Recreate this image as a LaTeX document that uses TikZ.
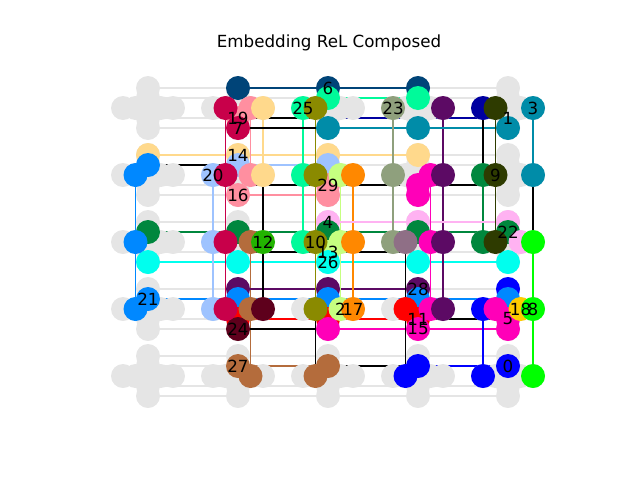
\documentclass[tikz,border=0pt]{standalone}
\usepackage{fontspec}
\setmainfont{DejaVu Sans}
\usetikzlibrary{backgrounds}

\definecolor{cgrey}{HTML}{E5E5E5}
\definecolor{cnavy}{HTML}{004478}
\definecolor{ccrim}{HTML}{C8004A}
\definecolor{cpink}{HTML}{FF8FA0}
\definecolor{cyel}{HTML}{FFD98C}
\definecolor{cmint}{HTML}{00FA9A}
\definecolor{colive}{HTML}{8A8A00}
\definecolor{cteal}{HTML}{008CA8}
\definecolor{cggreen}{HTML}{8FA07D}
\definecolor{cdpurp}{HTML}{5C0A64}
\definecolor{cdblue}{HTML}{0000A0}
\definecolor{cdolive}{HTML}{2E3B00}
\definecolor{clblue}{HTML}{9EC3FF}
\definecolor{cbluee}{HTML}{0088FF}
\definecolor{corange}{HTML}{FF8800}
\definecolor{clime}{HTML}{C6FF80}
\definecolor{cmag}{HTML}{FF00B8}
\definecolor{cdgreen}{HTML}{00873E}
\definecolor{clav}{HTML}{FFB2F2}
\definecolor{cbrown}{HTML}{B46C3C}
\definecolor{cgreen}{HTML}{22B400}
\definecolor{cmaroon}{HTML}{5E001C}
\definecolor{ccyan}{HTML}{00FFEE}
\definecolor{cmauve}{HTML}{8F6F86}
\definecolor{cred}{HTML}{FF0000}
\definecolor{cblue}{HTML}{0000FF}
\definecolor{cgold}{HTML}{FFCC00}
\definecolor{cneon}{HTML}{00FF00}

\tikzset{
  vtx/.style={circle, fill=#1, draw=none, inner sep=0pt, minimum size=24pt},
  vtx/.default=cgrey,
  gedge/.style={draw=cgrey, line width=1.4pt},
  cedge/.style={draw=#1, line width=1.4pt},
  lbl/.style={font=\fontsize{16.7}{20}\selectfont, inner sep=0pt},
}

\begin{document}
\begin{tikzpicture}[x=1pt,y=-1pt]
\useasboundingbox (0,0) rectangle (640,480);

\node[lbl] (title) at (329,43) {Embedding ReL Composed};

% target grid, 9 slots per cell
\foreach \i in {0,...,4}
  \foreach \j in {0,...,4}
    \foreach \s/\dx/\dy in {U2/0/-20, U1/0/-10, C/0/0, L2/-25/0, L1/-12.5/0, R1/12.5/0, R2/25/0, D1/0/10, D2/0/20}
      \node[vtx] (g\i\j\s) at ({148+90*\i+\dx},{108+67*\j+\dy}) {};

% column 1
\node[vtx=cyel] (a1) at (g01U2) {};
\node[vtx=cbluee] (a2) at (g01U1) {};
\node[vtx=cbluee] (a3) at (g01L1) {};
\node[vtx=cdgreen] (a4) at (g02U1) {};
\node[vtx=ccyan] (a6) at (g02D2) {};
\node[vtx=cbluee] (a5) at (g02L1) {};
\node[vtx=cbluee] (a7) at (g03U1) {};
\node[vtx=cbluee] (a8) at (g03L1) {};

% column 2
\node[vtx=cnavy] (b1) at (g10U2) {};
\node[vtx=cpink] (b2) at (g10D1) {};
\node[vtx=ccrim] (b3) at (g10D2) {};
\node[vtx=ccrim] (b4) at (g10L1) {};
\node[vtx=cpink] (b5) at (g10R1) {};
\node[vtx=cyel] (b6) at (g10R2) {};

\node[vtx=cyel] (c1) at (g11U2) {};
\node[vtx=clblue] (c2) at (g11U1) {};
\node[vtx=cpink] (c3) at (g11D2) {};
\node[vtx=clblue] (c4) at (g11L2) {};
\node[vtx=ccrim] (c5) at (g11L1) {};
\node[vtx=cpink] (c6) at (g11R1) {};
\node[vtx=cyel] (c7) at (g11R2) {};

\node[vtx=cdgreen] (d1) at (g12U1) {};
\node[vtx=ccyan] (d2) at (g12D2) {};
\node[vtx=clblue] (d3) at (g12L2) {};
\node[vtx=ccrim] (d4) at (g12L1) {};
\node[vtx=cbrown] (d5) at (g12R1) {};
\node[vtx=cgreen] (d6) at (g12R2) {};

\node[vtx=cdpurp] (e1) at (g13U2) {};
\node[vtx=cbluee] (e2) at (g13U1) {};
\node[vtx=cred] (e3) at (g13D1) {};
\node[vtx=cmaroon] (e4) at (g13D2) {};
\node[vtx=clblue] (e5) at (g13L2) {};
\node[vtx=ccrim] (e6) at (g13L1) {};
\node[vtx=cbrown] (e7) at (g13R1) {};
\node[vtx=cmaroon] (e8) at (g13R2) {};

\node[vtx=cbrown] (f1) at (g14U1) {};
\node[vtx=cbrown] (f2) at (g14R1) {};

% column 3
\node[vtx=cnavy] (g1) at (g20U2) {};
\node[vtx=cmint] (g2) at (g20U1) {};
\node[vtx=cteal] (g4) at (g20D2) {};
\node[vtx=cmint] (g5) at (g20L2) {};
\node[vtx=colive] (g6) at (g20L1) {};

\node[vtx=cyel] (h1) at (g21U2) {};
\node[vtx=clblue] (h2) at (g21U1) {};
\node[vtx=cpink] (h3) at (g21D1) {};
\node[vtx=cpink] (h4) at (g21D2) {};
\node[vtx=cmint] (h5) at (g21L2) {};
\node[vtx=colive] (h6) at (g21L1) {};
\node[vtx=clime] (h7) at (g21R1) {};
\node[vtx=corange] (h8) at (g21R2) {};

\node[vtx=clav] (i1) at (g22U2) {};
\node[vtx=cdgreen] (i2) at (g22U1) {};
\node[vtx=clime] (i3) at (g22D1) {};
\node[vtx=ccyan] (i4) at (g22D2) {};
\node[vtx=cmint] (i5) at (g22L2) {};
\node[vtx=colive] (i6) at (g22L1) {};
\node[vtx=clime] (i7) at (g22R1) {};
\node[vtx=corange] (i8) at (g22R2) {};

\node[vtx=cdpurp] (j1) at (g23U2) {};
\node[vtx=cbluee] (j2) at (g23U1) {};
\node[vtx=cred] (j3) at (g23D1) {};
\node[vtx=cmag] (j4) at (g23D2) {};
\node[vtx=colive] (j5) at (g23L1) {};
\node[vtx=clime] (j6) at (g23R1) {};
\node[vtx=corange] (j7) at (g23R2) {};

\node[vtx=cbrown] (k1) at (g24U1) {};
\node[vtx=cbrown] (k2) at (g24L1) {};

% column 4
\node[vtx=cnavy] (m1) at (g30U2) {};
\node[vtx=cmint] (m2) at (g30U1) {};
\node[vtx=cteal] (m4) at (g30D2) {};
\node[vtx=cggreen] (m5) at (g30L2) {};
\node[vtx=cdpurp] (m6) at (g30R2) {};

\node[vtx=cyel] (n1) at (g31U2) {};
\node[vtx=cmag] (n5) at (g31D1) {};
\node[vtx=cmag] (n6) at (g31D2) {};
\node[vtx=cggreen] (n2) at (g31L2) {};
\node[vtx=cmag] (n3) at (g31R1) {};
\node[vtx=cdpurp] (n4) at (g31R2) {};

\node[vtx=clav] (o1) at (g32U2) {};
\node[vtx=cdgreen] (o2) at (g32U1) {};
\node[vtx=ccyan] (o3) at (g32D2) {};
\node[vtx=cggreen] (o4) at (g32L2) {};
\node[vtx=cmauve] (o5) at (g32L1) {};
\node[vtx=cmag] (o6) at (g32R1) {};
\node[vtx=cdpurp] (o7) at (g32R2) {};

\node[vtx=cdpurp] (p1) at (g33U2) {};
\node[vtx=cbluee] (p2) at (g33U1) {};
\node[vtx=cred] (p3) at (g33D1) {};
\node[vtx=cmag] (p4) at (g33D2) {};
\node[vtx=cred] (p5) at (g33L1) {};
\node[vtx=cmag] (p6) at (g33R1) {};
\node[vtx=cdpurp] (p7) at (g33R2) {};

\node[vtx=cblue] (q1) at (g34U1) {};
\node[vtx=cblue] (q2) at (g34L1) {};

% column 5
\node[vtx=cteal] (r4) at (g40D2) {};
\node[vtx=cdblue] (r1) at (g40L2) {};
\node[vtx=cdolive] (r2) at (g40L1) {};
\node[vtx=cteal] (r5) at (g40R2) {};

\node[vtx=cdgreen] (s1) at (g41L2) {};
\node[vtx=cdolive] (s2) at (g41L1) {};
\node[vtx=cteal] (s3) at (g41R2) {};

\node[vtx=clav] (t1) at (g42U2) {};
\node[vtx=cdgreen] (t2) at (g42U1) {};
\node[vtx=ccyan] (t3) at (g42D2) {};
\node[vtx=cdgreen] (t4) at (g42L2) {};
\node[vtx=cdolive] (t5) at (g42L1) {};
\node[vtx=clav] (t6) at (g42R1) {};
\node[vtx=cneon] (t7) at (g42R2) {};

\node[vtx=cblue] (u1) at (g43U2) {};
\node[vtx=cbluee] (u2) at (g43U1) {};
\node[vtx=cmag] (u3) at (g43D1) {};
\node[vtx=cmag] (u4) at (g43D2) {};
\node[vtx=cblue] (u5) at (g43L2) {};
\node[vtx=cmag] (u6) at (g43L1) {};
\node[vtx=cgold] (u7) at (g43R1) {};
\node[vtx=cneon] (u8) at (g43R2) {};

\node[vtx=cblue] (v1) at (g44U1) {};
\node[vtx=cblue] (v2) at (g44L2) {};
\node[vtx=cneon] (v3) at (g44R2) {};

% labels
\node[lbl] (l0) at (v1) {0};
\node[lbl] (l1) at (g40D1) {1};
\node[lbl] (l2) at (j6) {2};
\node[lbl] (l3) at (r5) {3};
\node[lbl] (l4) at (i1) {4};
\node[lbl] (l5) at (u3) {5};
\node[lbl] (l6) at (g1) {6};
\node[lbl] (l7) at (b3) {7};
\node[lbl] (l8) at (u8) {8};
\node[lbl] (l9) at (s2) {9};
\node[lbl] (l10) at (i6) {10};
\node[lbl] (l11) at (p3) {11};
\node[lbl] (l12) at (d6) {12};
\node[lbl] (l13) at (i3) {13};
\node[lbl] (l14) at (c1) {14};
\node[lbl] (l15) at (p4) {15};
\node[lbl] (l16) at (c3) {16};
\node[lbl] (l17) at (j7) {17};
\node[lbl] (l18) at (u7) {18};
\node[lbl] (l19) at (b2) {19};
\node[lbl] (l20) at (c4) {20};
\node[lbl] (l21) at (a7) {21};
\node[lbl] (l22) at (t2) {22};
\node[lbl] (l23) at (m5) {23};
\node[lbl] (l24) at (e4) {24};
\node[lbl] (l25) at (g5) {25};
\node[lbl] (l26) at (i4) {26};
\node[lbl] (l27) at (f1) {27};
\node[lbl] (l28) at (p1) {28};
\node[lbl] (l29) at (h3) {29};

\begin{pgfonlayer}{background}
\foreach \i in {0,...,4}
  \foreach \j [evaluate=\j as \jj using int(\j+1)] in {0,...,3}
    \foreach \s in {L2,L1,R1,R2}
      \draw[gedge] (g\i\j\s) -- (g\i\jj\s);
\foreach \i [evaluate=\i as \ii using int(\i+1)] in {0,...,3}
  \foreach \j in {0,...,4}
    \foreach \s in {U2,U1,D1,D2}
      \draw[gedge] (g\i\j\s) -- (g\ii\j\s);

\draw[cedge=cyel] (a1) -- (c1) -- (h1) -- (n1);
\draw[cedge=cyel] (b6) -- (c7);
\draw[cedge=cbluee] (a3) -- (a5) -- (a8);
\draw[cedge=cbluee] (a7) -- (e2) -- (j2) -- (p2) -- (u2);
\draw[cedge=cdgreen] (a4) -- (d1) -- (i2) -- (o2) -- (t2);
\draw[cedge=cdgreen] (s1) -- (t4);
\draw[cedge=ccyan] (a6) -- (d2) -- (i4) -- (o3) -- (t3);
\draw[cedge=cnavy] (b1) -- (g1) -- (m1);
\draw[cedge=ccrim] (b4) -- (c5) -- (d4) -- (e6);
\draw[cedge=cpink] (b5) -- (c6);
\draw[cedge=cpink] (c3) -- (h4);
\draw[cedge=clblue] (c4) -- (d3) -- (e5);
\draw[cedge=clblue] (c2) -- (h2);
\draw[cedge=cbrown] (d5) -- (e7) -- (f2);
\draw[cedge=cbrown] (f1) -- (k1);
\draw[cedge=cdpurp] (e1) -- (j1) -- (p1);
\draw[cedge=cdpurp] (m6) -- (n4) -- (o7) -- (p7);
\draw[cedge=cred] (e3) -- (j3) -- (p3);
\draw[cedge=cmint] (g2) -- (m2);
\draw[cedge=cmint] (g5) -- (h5) -- (i5);
\draw[cedge=colive] (g6) -- (h6) -- (i6) -- (j5);
\draw[cedge=cdblue] (g20D1) -- (g30D1) -- (g40D1);
\draw[cedge=cteal] (g4) -- (m4) -- (r4);
\draw[cedge=cteal] (r5) -- (s3);
\draw[cedge=clime] (h7) -- (i7) -- (j6);
\draw[cedge=corange] (h8) -- (i8) -- (j7);
\draw[cedge=clav] (i1) -- (o1) -- (t1);
\draw[cedge=cggreen] (m5) -- (n2) -- (o4);
\draw[cedge=cmag] (n3) -- (o6) -- (p6);
\draw[cedge=cmag] (j4) -- (p4) -- (u4);
\draw[cedge=cdolive] (r2) -- (s2) -- (t5);
\draw[cedge=cneon] (t7) -- (u8) -- (v3);
\draw[cedge=cblue] (u5) -- (v2);
\draw[cedge=cblue] (q1) -- (v1);

\draw[cedge=black] (r1) -- (s1);
\draw[cedge=black] (s3) -- (t7);
\draw[cedge=black] (b3) -- (g4);
\draw[cedge=black] (b2) -- (g20D1);
\draw[cedge=black] (c7) -- (d6);
\draw[cedge=black] (d6) -- (e8);
\draw[cedge=black] (g11D1) -- (h3) -- (n5) -- (g41D1);
\draw[cedge=black] (g12D1) -- (i3) -- (g32D1);
\draw[cedge=black] (p3) -- (u3);
\draw[cedge=black] (k1) -- (q1);
\draw[cedge=black] (e4) -- (j4);
\draw[cedge=black] (j5) -- (k2);
\draw[cedge=black] (o5) -- (p5) -- (q2);
\draw[cedge=black] (a2) -- (c2);
\end{pgfonlayer}

\end{tikzpicture}
\end{document}
